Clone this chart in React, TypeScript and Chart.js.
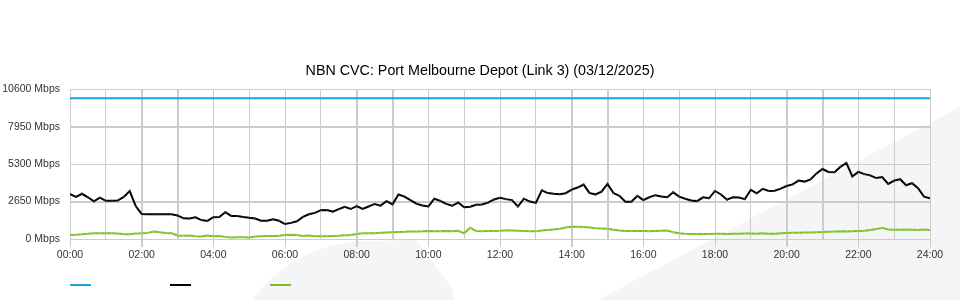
import React, { useEffect, useRef } from 'react';
import { Chart, registerables } from 'chart.js';

Chart.register(...registerables);

const TITLE = 'NBN CVC: Port Melbourne Depot (Link 3) (03/12/2025)';
const STEP_MINUTES = 10;
const Y_MAX = 10600;
const Y_STEP = 2650;
const CAPACITY_MBPS = 9950;

const trafficMbps = [
  3180, 2980, 3200, 2950, 2660, 2920, 2700, 2710, 2720, 2980,
  3390, 2330, 1770, 1750, 1750, 1750, 1750, 1750, 1670, 1460,
  1450, 1530, 1340, 1280, 1540, 1560, 1900, 1630, 1620, 1560,
  1500, 1450, 1290, 1290, 1400, 1290, 1060, 1140, 1250, 1560,
  1750, 1850, 2040, 2050, 1940, 2110, 2280, 2120, 2320, 2130,
  2300, 2480, 2360, 2680, 2450, 3150, 3000, 2750, 2500, 2370,
  2300, 2850, 2700, 2480, 2350, 2580, 2250, 2280, 2420, 2440,
  2570, 2800, 2920, 2820, 2750, 2300, 2850, 2650, 2550, 3450,
  3250, 3200, 3170, 3240, 3490, 3640, 3850, 3250, 3150, 3350,
  3900, 3250, 3050, 2640, 2640, 3050, 2750, 2950, 3100, 3000,
  2950, 3300, 3000, 2850, 2720, 2680, 2950, 2880, 3400, 3150,
  2780, 2950, 2930, 2820, 3480, 3230, 3550, 3400, 3420, 3560,
  3750, 3860, 4130, 4060, 4220, 4640, 4950, 4740, 4720, 5100,
  5380, 4420, 4750, 4590, 4500, 4310, 4380, 3900, 4130, 4230,
  3800, 3950, 3600, 3000, 2880,
];

const otherMbps = [
  280, 300, 330, 380, 400, 400, 400, 400, 390, 330,
  340, 390, 400, 420, 530, 470, 420, 400, 250, 230,
  240, 200, 180, 250, 200, 220, 150, 110, 130, 120,
  110, 170, 200, 210, 220, 230, 290, 300, 280, 220,
  250, 200, 200, 200, 220, 230, 260, 280, 360, 400,
  400, 410, 440, 460, 480, 500, 510, 530, 530, 540,
  560, 540, 550, 560, 550, 580, 400, 800, 560, 550,
  560, 570, 580, 620, 600, 580, 560, 540, 540, 600,
  640, 680, 720, 820, 860, 870, 850, 820, 760, 750,
  720, 660, 600, 560, 560, 560, 560, 540, 560, 580,
  600, 480, 400, 370, 360, 350, 360, 350, 370, 380,
  360, 380, 370, 390, 390, 370, 400, 380, 380, 400,
  420, 440, 440, 460, 460, 480, 500, 520, 530, 550,
  530, 550, 570, 580, 630, 700, 800, 680, 660, 650,
  680, 660, 640, 680, 640,
];

const COLORS = { capacity: '#1aa3e8', traffic: '#000000', other: '#7dc12a' };
const FONT = 'Liberation Sans, Arial, sans-serif';

const toPoints = (arr: number[]) => arr.map((v, i) => ({ x: i * STEP_MINUTES, y: v }));

const watermark = {
  id: 'watermark',
  beforeDraw(chart: any) {
    const ctx = chart.ctx;
    ctx.save();
    ctx.fillStyle = '#f4f5f7';
    ctx.beginPath();
    ctx.moveTo(252, 300);
    ctx.bezierCurveTo(280, 262, 320, 243, 365, 241);
    ctx.lineTo(416, 240);
    ctx.lineTo(452, 288);
    ctx.lineTo(454, 300);
    ctx.closePath();
    ctx.fill();
    ctx.beginPath();
    ctx.moveTo(598, 300);
    ctx.lineTo(960, 107);
    ctx.lineTo(960, 300);
    ctx.closePath();
    ctx.fill();
    ctx.restore();
  },
};

const customLegend = {
  id: 'customLegend',
  afterDraw(chart: any) {
    const ctx = chart.ctx;
    const left = chart.chartArea.left;
    ctx.save();
    chart.data.datasets.forEach((ds: any, i: number) => {
      ctx.strokeStyle = ds.borderColor;
      ctx.lineWidth = 2;
      ctx.beginPath();
      ctx.moveTo(left + i * 100, 285);
      ctx.lineTo(left + i * 100 + 21, 285);
      ctx.stroke();
    });
    ctx.restore();
  },
};

export default function App() {
  const ref = useRef<HTMLCanvasElement>(null);
  useEffect(() => {
    if (!ref.current) return;
    const chart = new Chart(ref.current, {
      type: 'line',
      data: {
        datasets: [
          {
            label: 'Capacity',
            data: toPoints(trafficMbps.map(() => CAPACITY_MBPS)),
            borderColor: COLORS.capacity,
            borderWidth: 2,
            pointRadius: 0,
          },
          {
            label: 'Traffic',
            data: toPoints(trafficMbps),
            borderColor: COLORS.traffic,
            borderWidth: 2,
            pointRadius: 1,
            pointBorderWidth: 0,
            pointBackgroundColor: '#333',
          },
          {
            label: 'Other',
            data: toPoints(otherMbps),
            borderColor: COLORS.other,
            borderWidth: 2,
            pointRadius: 1,
            pointStyle: 'rect',
            pointBorderWidth: 0,
            pointBackgroundColor: '#a6d861',
          },
        ],
      },
      options: {
        animation: false,
        responsive: false,
        layout: { padding: { left: 0, right: 0, top: 0, bottom: 39 } },
        plugins: {
          legend: { display: false },
          tooltip: { enabled: false },
          title: {
            display: true,
            text: TITLE,
            color: '#000',
            font: { family: FONT, size: 14.3, weight: 'normal' },
            padding: { top: 62, bottom: 10 },
          },
        },
        scales: {
          x: {
            type: 'linear',
            min: 0,
            max: 1440,
            border: { display: false },
            grid: {
              color: '#cccccc',
              lineWidth: (c: any) => {
                const h = Math.round(c.tick.value / 60) % 6;
                return h === 2 || h === 3 ? 2 : 1;
              },
              tickLength: 8,
              tickColor: (c: any) => (c.tick && c.tick.value % 120 === 0 ? '#cccccc' : 'rgba(0,0,0,0)'),
            },
            ticks: {
              stepSize: 60,
              autoSkip: false,
              maxRotation: 0,
              padding: 2,
              color: '#333',
              font: { family: FONT, size: 10.5 },
              callback: (v: any) => {
                const n = Number(v);
                if (n % 120 !== 0) return '';
                return String(n / 60).padStart(2, '0') + ':00';
              },
            },
            afterFit: (s: any) => {
              s.height = 22;
            },
          },
          y: {
            min: 0,
            max: Y_MAX,
            border: { display: false },
            grid: {
              color: '#cccccc',
              drawTicks: false,
              lineWidth: (c: any) => (c.index === 1 || c.index === 3 ? 2 : 1),
            },
            ticks: {
              stepSize: Y_STEP,
              padding: 10,
              color: '#333',
              font: { family: FONT, size: 10.5 },
              callback: (v: any) => `${v} Mbps`,
            },
            afterFit: (s: any) => {
              s.width = 70;
            },
          },
          yRight: {
            type: 'linear',
            position: 'right',
            min: 0,
            max: Y_MAX,
            border: { display: false },
            grid: { drawOnChartArea: false, drawTicks: false },
            ticks: { display: false },
            afterFit: (s: any) => {
              s.width = 30;
            },
          },
        },
      },
      plugins: [watermark, customLegend],
    } as any);
    return () => chart.destroy();
  }, []);
  return (
    <div style={{ position: 'fixed', left: 0, top: 0, width: 960, height: 300, background: '#fff' }}>
      <canvas ref={ref} width={960} height={300} />
    </div>
  );
}
